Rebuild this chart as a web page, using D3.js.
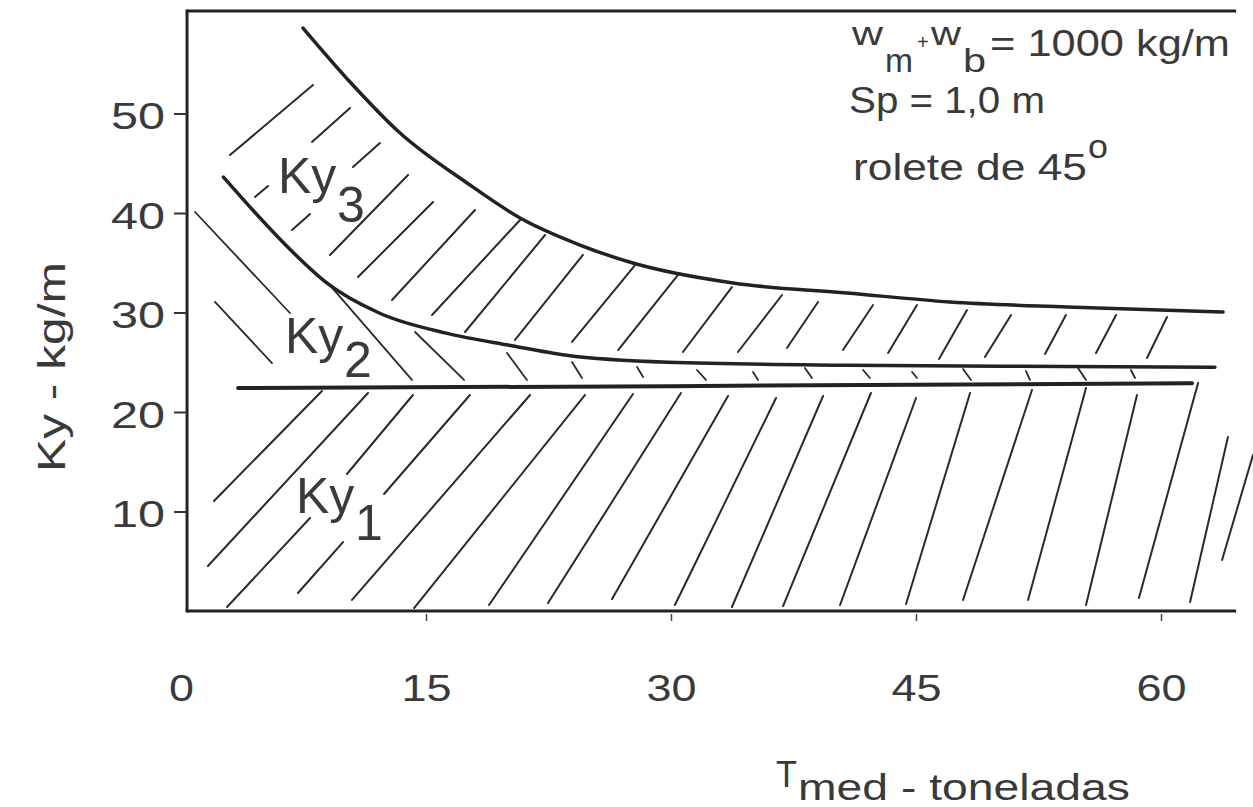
<!DOCTYPE html>
<html>
<head>
<meta charset="utf-8">
<script src="https://cdn.jsdelivr.net/npm/d3@7"></script>
<style>
  html, body { margin: 0; padding: 0; background: #ffffff; }
  svg { display: block; }
  text { font-family: "Liberation Sans", Arial, Helvetica, sans-serif; fill: #3a3a3a; }
</style>
</head>
<body>
<svg id="chart" width="1253" height="807"></svg>
<script>
// ---------- data ----------
const xTickValues = [0, 15, 30, 45, 60];
const xTickLabels = ["0", "15", "30", "45", "60"];
const yTickValues = [10, 20, 30, 40, 50];
const yTickLabels = ["10", "20", "30", "40", "50"];

// Ky3 upper boundary curve (Tmed, Ky)
const ky3T = [7.47, 10.35, 13.41, 17.51, 20.76, 24.43, 27.67, 33.80, 40.78, 47.08, 54.25, 63.80];
const ky3K = [58.59, 53.17, 48.04, 43.02, 39.50, 36.78, 34.97, 32.96, 31.96, 31.06, 30.55, 30.05];

// Ky2 curve
const ky2T = [2.6, 4.5, 6.7, 8.9, 12.2, 16.3, 20.1, 23.6, 29.8, 40.8, 50.2, 63.3];
const ky2K = [43.6, 40.1, 36.3, 33.0, 29.9, 27.9, 26.7, 25.7, 25.0, 24.7, 24.6, 24.5];

// Ky1 line
const ky1T = [3.5, 30, 61.9];
const ky1K = [22.4, 22.6, 22.9];

// hatching strokes [T1, K1, T2, K2]
const hatchKy1 = [
  [2.02, 11.06, 8.63, 22.11], [1.65, 4.52, 11.45, 21.91],
  [2.82, 0.40, 7.90, 9.35], [10.16, 13.77, 14.20, 21.71],
  [7.16, 1.81, 9.92, 6.93], [12.43, 11.76, 17.69, 21.71],
  [10.47, 1.11, 21.37, 21.71], [14.27, 0.30, 24.74, 21.71],
  [18.86, 0.60, 27.67, 21.81], [22.47, 0.80, 30.61, 21.91],
  [26.39, 1.21, 33.49, 21.61], [30.24, 0.60, 36.43, 21.41],
  [33.73, 0.40, 39.31, 21.61], [36.86, 0.50, 42.24, 21.91],
  [40.35, 0.60, 45.00, 21.41], [44.39, 0.70, 48.31, 21.91],
  [47.88, 1.11, 52.10, 22.21], [51.86, 1.11, 55.41, 22.41],
  [55.41, 0.60, 58.53, 21.71], [58.65, 1.31, 62.27, 22.91],
  [61.78, 0.90, 64.10, 17.49], [63.74, 5.13, 65.63, 15.68]
];
const hatchKy2 = [
  [0.86, 40.10, 6.67, 29.95], [2.08, 31.06, 5.57, 24.92],
  [8.94, 33.07, 14.14, 23.22], [14.33, 28.04, 17.33, 23.22],
  [19.96, 25.93, 21.18, 23.22], [23.94, 25.03, 24.55, 23.42],
  [27.92, 24.52, 28.29, 23.52], [31.59, 24.22, 32.14, 23.22],
  [35.02, 24.02, 35.33, 23.22], [38.20, 24.42, 38.63, 23.42],
  [41.76, 24.22, 42.18, 23.42], [44.76, 24.02, 45.06, 23.42],
  [47.88, 24.32, 48.37, 23.22], [51.73, 24.12, 51.98, 23.22],
  [54.92, 24.42, 55.41, 23.22], [58.16, 24.22, 58.41, 23.42]
];
const hatchKy3 = [
  [3.00, 45.83, 8.08, 52.86],
  [4.53, 41.61, 5.33, 42.71], [8.02, 47.14, 10.35, 50.55],
  [6.80, 38.29, 7.90, 39.90], [10.53, 44.62, 12.18, 47.04],
  [9.12, 35.78, 13.90, 43.82], [10.84, 33.57, 15.43, 41.11],
  [12.92, 31.26, 18.00, 40.30], [15.37, 29.75, 20.76, 39.30],
  [17.39, 28.04, 22.29, 37.79], [20.45, 27.24, 24.61, 35.78],
  [23.94, 27.04, 27.80, 34.77], [26.76, 26.23, 30.43, 33.77],
  [30.73, 26.03, 33.73, 32.56], [34.10, 26.03, 36.80, 31.76],
  [37.10, 26.43, 39.00, 31.06], [40.53, 26.23, 42.37, 30.75],
  [43.29, 25.93, 45.06, 30.75], [46.41, 25.33, 48.12, 30.25],
  [49.22, 25.53, 50.82, 29.75], [52.90, 25.83, 54.18, 29.75],
  [56.02, 25.93, 57.25, 29.75], [59.14, 25.43, 60.37, 29.55]
];

// frame extent in data units
const frameT = [0.37, 64.6];
const frameK = [0, 60.3];

// ---------- scales ----------
const svg = d3.select("#chart");
const x = d3.scaleLinear().domain([0, 60]).range([181, 1161]);
const y = d3.scaleLinear().domain([0, 60]).range([611, 14]);

const ink = "#222";

// ---------- hatching ----------
function drawHatch(data, cls, w) {
  svg.append("g").attr("class", cls)
    .selectAll("line").data(data).join("line")
    .attr("x1", d => x(d[0])).attr("y1", d => y(d[1]))
    .attr("x2", d => x(d[2])).attr("y2", d => y(d[3]))
    .attr("stroke", "#2a2a2a").attr("stroke-width", w)
    .attr("stroke-linecap", "round");
}
drawHatch(hatchKy1, "hatch-ky1", 2);
drawHatch(hatchKy2, "hatch-ky2", 1.8);
drawHatch(hatchKy3, "hatch-ky3", 2);

// ---------- curves ----------
const line = d3.line().x(d => x(d[0])).y(d => y(d[1])).curve(d3.curveMonotoneX);
const ky3Pts = ky3T.map((t, i) => [t, ky3K[i]]);
const ky2Pts = ky2T.map((t, i) => [t, ky2K[i]]);
const ky1Pts = ky1T.map((t, i) => [t, ky1K[i]]);

svg.append("path").datum(ky3Pts).attr("d", line)
  .attr("fill", "none").attr("stroke", ink).attr("stroke-width", 3.5).attr("stroke-linecap", "round");
svg.append("path").datum(ky2Pts).attr("d", line)
  .attr("fill", "none").attr("stroke", ink).attr("stroke-width", 3.5).attr("stroke-linecap", "round");
svg.append("path").datum(ky1Pts).attr("d", d3.line().x(d => x(d[0])).y(d => y(d[1])))
  .attr("fill", "none").attr("stroke", ink).attr("stroke-width", 4).attr("stroke-linecap", "round");

// ---------- frame ----------
const frame = svg.append("g").attr("class", "frame")
  .attr("stroke", ink).attr("stroke-width", 3).attr("fill", "none");
frame.append("line").attr("x1", x(frameT[0])).attr("x2", x(frameT[1]))
  .attr("y1", y(frameK[1])).attr("y2", y(frameK[1]));
frame.append("line").attr("x1", x(frameT[0])).attr("x2", x(frameT[0]))
  .attr("y1", y(frameK[1]) - 1.5).attr("y2", y(frameK[0]) + 1.5);
frame.append("line").attr("x1", x(frameT[0])).attr("x2", x(frameT[1]))
  .attr("y1", y(frameK[0])).attr("y2", y(frameK[0]));

// ---------- axes ----------
const gx = svg.append("g").attr("transform", `translate(0,${y(frameK[0])})`)
  .call(d3.axisBottom(x).tickValues(xTickValues).tickFormat((d, i) => xTickLabels[i]).tickSize(10).tickPadding(0));
gx.select(".domain").remove();
gx.selectAll(".tick line").attr("stroke", "#444").attr("stroke-width", 1.5)
  .attr("y1", 3).attr("opacity", d => d === 0 ? 0 : 1);
gx.selectAll(".tick text")
  .attr("y", 90).attr("dy", null)
  .attr("font-size", 36).attr("fill", "#3a3a3a")
  .attr("textLength", d => d === 0 ? 25 : 50).attr("lengthAdjust", "spacingAndGlyphs")
  .style("font-family", "'Liberation Sans', Arial, sans-serif");

const gy = svg.append("g").attr("transform", `translate(${x(frameT[0])},0)`)
  .call(d3.axisLeft(y).tickValues(yTickValues).tickFormat((d, i) => yTickLabels[i]).tickSize(13).tickPadding(9));
gy.select(".domain").remove();
gy.selectAll(".tick line").attr("stroke", "#333").attr("stroke-width", 2);
gy.selectAll(".tick text")
  .attr("dy", "0.42em")
  .attr("font-size", 36).attr("fill", "#3a3a3a")
  .attr("textLength", 54).attr("lengthAdjust", "spacingAndGlyphs")
  .style("font-family", "'Liberation Sans', Arial, sans-serif");

// ---------- axis titles ----------
svg.append("text")
  .attr("transform", "translate(65,472) rotate(-90)")
  .attr("font-size", 38).attr("textLength", 210).attr("lengthAdjust", "spacingAndGlyphs")
  .text("Ky - kg/m");

svg.append("text").attr("x", 776).attr("y", 787).attr("font-size", 37)
  .attr("textLength", 21).attr("lengthAdjust", "spacingAndGlyphs").text("T");
svg.append("text").attr("x", 798).attr("y", 800).attr("font-size", 37)
  .attr("textLength", 332).attr("lengthAdjust", "spacingAndGlyphs").text("med - toneladas");

// ---------- region labels ----------
function regionLabel(xp, yp, subX, subY, sub) {
  svg.append("text").attr("x", xp).attr("y", yp).attr("font-size", 50)
    .attr("fill", "#222").text("Ky");
  svg.append("text").attr("x", subX).attr("y", subY).attr("font-size", 50)
    .attr("fill", "#222").text(sub);
}
regionLabel(278, 193, 337, 222, "3");
regionLabel(285, 353, 344, 377, "2");
regionLabel(296, 513, 355, 540, "1");

// ---------- annotation ----------
const ann = svg.append("g").attr("class", "annotation");
ann.append("text").attr("x", 852).attr("y", 45).attr("font-size", 34)
  .attr("textLength", 31).attr("lengthAdjust", "spacingAndGlyphs").text("w");
ann.append("text").attr("x", 885).attr("y", 72).attr("font-size", 34)
  .attr("textLength", 28).attr("lengthAdjust", "spacingAndGlyphs").text("m");
ann.append("text").attr("x", 917).attr("y", 49).attr("font-size", 20).text("+");
ann.append("text").attr("x", 931).attr("y", 45).attr("font-size", 34)
  .attr("textLength", 30).attr("lengthAdjust", "spacingAndGlyphs").text("w");
ann.append("text").attr("x", 963).attr("y", 72).attr("font-size", 34)
  .attr("textLength", 23).attr("lengthAdjust", "spacingAndGlyphs").text("b");
ann.append("text").attr("x", 990).attr("y", 56).attr("font-size", 37)
  .attr("textLength", 240).attr("lengthAdjust", "spacingAndGlyphs").text("= 1000 kg/m");
ann.append("text").attr("x", 849).attr("y", 113).attr("font-size", 37)
  .attr("textLength", 196).attr("lengthAdjust", "spacingAndGlyphs").text("Sp = 1,0 m");
ann.append("text").attr("x", 853).attr("y", 180).attr("font-size", 36)
  .attr("textLength", 234).attr("lengthAdjust", "spacingAndGlyphs").text("rolete de 45");
ann.append("text").attr("x", 1088).attr("y", 158).attr("font-size", 34)
  .attr("textLength", 20).attr("lengthAdjust", "spacingAndGlyphs").text("o");
</script>
</body>
</html>
